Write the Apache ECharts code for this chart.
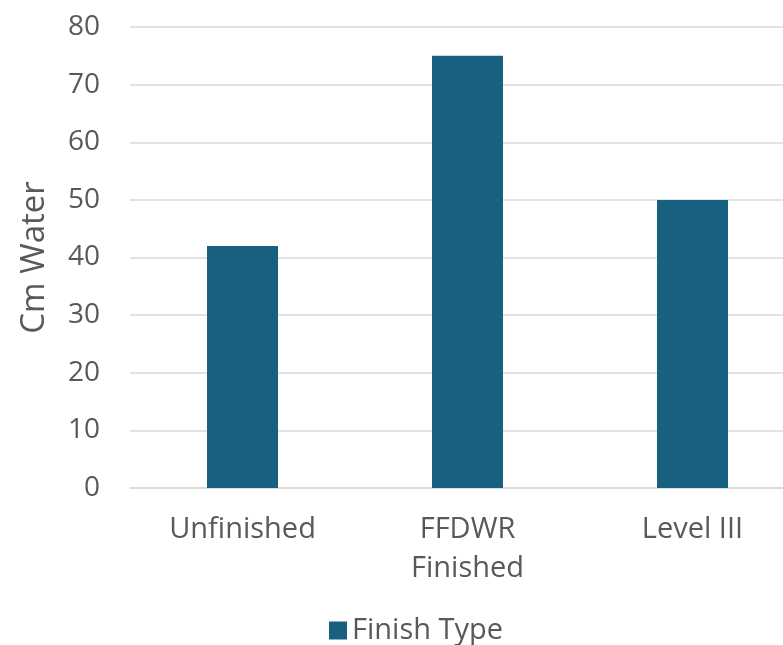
<!DOCTYPE html>
<html>
<head>
<meta charset="utf-8">
<script src="https://cdn.jsdelivr.net/npm/echarts@6/dist/echarts.min.js"></script>
<style>
  html, body { margin: 0; padding: 0; background: #fff; }
  #main { width: 783px; height: 645px; }
</style>
</head>
<body>
<div id="main"></div>
<script>
// data
const categories = ['Unfinished', 'FFDWR\nFinished', 'Level III'];
const finishType = [42, 75, 50];
const yTicks = { min: 0, max: 80, interval: 10 };

const textColor = '#595959';
const font = 'Open Sans';

var myChart = echarts.init(document.getElementById('main'));

var option = {
  backgroundColor: '#fff',
  animation: false,
  color: ['#18607f'],
  grid: { left: 130, top: 27, width: 675, height: 461, outerBoundsMode: 'none', containLabel: false },
  legend: {
    left: 324,
    top: 611,
    itemWidth: 18,
    itemHeight: 18,
    itemGap: 9,
    icon: 'rect',
    textStyle: { color: textColor, fontSize: 29, fontFamily: font }
  },
  xAxis: {
    type: 'category',
    data: categories,
    axisLine: { lineStyle: { color: '#d9d9d9', width: 1.5 } },
    axisTick: { show: false },
    axisLabel: {
      color: textColor,
      fontSize: 29,
      fontFamily: font,
      lineHeight: 39,
      margin: 22
    }
  },
  yAxis: {
    type: 'value',
    min: yTicks.min,
    max: yTicks.max,
    interval: yTicks.interval,
    name: 'Cm Water',
    nameLocation: 'middle',
    nameGap: 79,
    nameTextStyle: { color: textColor, fontSize: 33, fontFamily: font },
    axisLine: { show: false },
    axisTick: { show: false },
    axisLabel: { color: textColor, fontSize: 28, fontFamily: font, margin: 30 },
    splitLine: { lineStyle: { color: '#d9d9d9', width: 1.5 } }
  },
  series: [
    {
      name: 'Finish Type',
      type: 'bar',
      barWidth: 71,
      data: finishType
    }
  ]
};

option && myChart.setOption(option);
</script>
</body>
</html>
